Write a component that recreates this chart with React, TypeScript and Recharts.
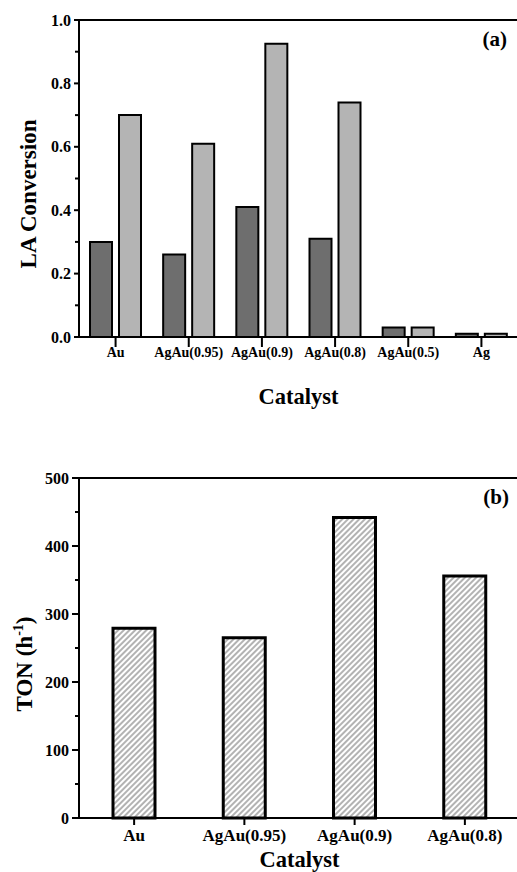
import React from 'react';
import { BarChart, Bar, XAxis, YAxis, ReferenceLine, Label } from 'recharts';

// panel (a): LA conversion per catalyst, two series
const catalystsA = ['Au', 'AgAu(0.95)', 'AgAu(0.9)', 'AgAu(0.8)', 'AgAu(0.5)', 'Ag'];
const conversionDark = [0.3, 0.26, 0.41, 0.31, 0.03, 0.01];
const conversionLight = [0.7, 0.61, 0.925, 0.74, 0.03, 0.01];
const ticksA = [0, 0.1, 0.2, 0.3, 0.4, 0.5, 0.6, 0.7, 0.8, 0.9, 1.0];

// panel (b): TON per catalyst
const catalystsB = ['Au', 'AgAu(0.95)', 'AgAu(0.9)', 'AgAu(0.8)'];
const tonValues = [279, 265, 442, 356];
const ticksB = [0, 50, 100, 150, 200, 250, 300, 350, 400, 450, 500];
const minorTicksB = [1, 2, 3];

const dataA = catalystsA.map((name, i) => ({ name, dark: conversionDark[i], light: conversionLight[i] }));
const dataB = catalystsB.map((name, i) => ({ name, pos: i + 0.5, ton: tonValues[i] }));

const FONT = '"Liberation Serif", "Times New Roman", serif';
const axisStroke = { stroke: '#000', strokeWidth: 2 };

function makeYTick(size: number, margin: number, minorLen: number, fontSize: number,
  isMajor: (v: number) => boolean, fmt: (v: number) => string) {
  return (props: any) => {
    const { x, y, payload } = props;
    const axisX = x + size + margin;
    const major = isMajor(payload.value);
    const len = major ? size : minorLen;
    return (
      <g>
        <line x1={axisX - len} x2={axisX} y1={y} y2={y} stroke="#000" strokeWidth={2} />
        {major && (
          <text x={x} y={y} dy="0.35em" textAnchor="end" fill="#000"
            fontFamily={FONT} fontWeight="bold" fontSize={fontSize}>
            {fmt(payload.value)}
          </text>
        )}
      </g>
    );
  };
}

const tickA = makeYTick(5, 3, 4, 16, (v) => Math.round(v * 10) % 2 === 0, (v) => v.toFixed(1));
const tickB = makeYTick(7, 3, 4, 16, (v) => v % 100 === 0, (v) => String(v));

export default function App() {
  return (
    <div style={{ position: 'absolute', left: 0, top: 0, width: 517, height: 872, overflow: 'hidden', background: '#fff' }}>
      <div style={{ position: 'absolute', left: 0, top: 0 }}>
        <BarChart width={530} height={420} data={dataA} barSize={22} barGap={7}
          margin={{ top: 20, right: 12, left: 19, bottom: 0 }}>
          <XAxis dataKey="name" height={83} interval={0} tickSize={10} tickMargin={0}
            axisLine={axisStroke} tickLine={axisStroke}
            tick={{ fill: '#000', fontSize: 14, fontWeight: 'bold', fontFamily: FONT }}>
            <Label value="Catalyst" position="insideBottom" offset={16}
              style={{ fill: '#000', fontSize: 22.5, fontWeight: 'bold', fontFamily: FONT }} />
          </XAxis>
          <YAxis width={60} domain={[0, 1]} ticks={ticksA} interval={0} tickSize={5} tickMargin={3}
            axisLine={axisStroke} tickLine={false} tick={tickA}>
            <Label content={() => (
              <text x={36} y={194} transform="rotate(-90 36 194)" textAnchor="middle" fill="#000"
                fontFamily={FONT} fontWeight="bold" fontSize={23}>LA Conversion</text>
            )} />
          </YAxis>
          <ReferenceLine y={1} stroke="#000" strokeWidth={2}
            label={{ value: '(a)', position: 'insideTopRight', offset: 11, fill: '#000',
              fontSize: 21, fontWeight: 'bold', fontFamily: FONT }} />
          <Bar dataKey="dark" fill="#6e6e6e" stroke="#000" strokeWidth={2} isAnimationActive={false} />
          <Bar dataKey="light" fill="#b4b4b4" stroke="#000" strokeWidth={2} isAnimationActive={false} />
        </BarChart>
      </div>
      <div style={{ position: 'absolute', left: 0, top: 440 }}>
        <BarChart width={530} height={432} data={dataB} barSize={42}
          margin={{ top: 38, right: 10, left: 19, bottom: 0 }}>
          <defs>
            <pattern id="hatch" patternUnits="userSpaceOnUse" width={4} height={4}
              patternTransform="rotate(45)">
              <rect width={4} height={4} fill="#fff" />
              <line x1={2} y1={0} x2={2} y2={4} stroke="#666" strokeWidth={1} />
            </pattern>
          </defs>
          <XAxis xAxisId="minor" type="number" dataKey="pos" domain={[0, 4]} ticks={minorTicksB}
            height={1} tick={false} axisLine={false} tickSize={4} tickLine={axisStroke} />
          <XAxis dataKey="name" height={53} interval={0} tickSize={7} tickMargin={4}
            axisLine={axisStroke} tickLine={axisStroke}
            tick={{ fill: '#000', fontSize: 17, fontWeight: 'bold', fontFamily: FONT }}>
            <Label value="Catalyst" position="insideBottom" offset={4}
              style={{ fill: '#000', fontSize: 22.5, fontWeight: 'bold', fontFamily: FONT }} />
          </XAxis>
          <YAxis width={60} domain={[0, 500]} ticks={ticksB} interval={0} tickSize={7} tickMargin={3}
            axisLine={axisStroke} tickLine={false} tick={tickB}>
            <Label content={() => (
              <text x={32} y={224} transform="rotate(-90 32 224)" textAnchor="middle" fill="#000"
                fontFamily={FONT} fontWeight="bold" fontSize={23}>
                TON (h<tspan dy={-9} fontSize={14}>-1</tspan><tspan dy={9}>)</tspan>
              </text>
            )} />
          </YAxis>
          <ReferenceLine y={500} stroke="#000" strokeWidth={2}
            label={{ value: '(b)', position: 'insideTopRight', offset: 11, fill: '#000',
              fontSize: 21, fontWeight: 'bold', fontFamily: FONT }} />
          <Bar dataKey="ton" fill="url(#hatch)" stroke="#000" strokeWidth={3} isAnimationActive={false} />
        </BarChart>
      </div>
    </div>
  );
}
